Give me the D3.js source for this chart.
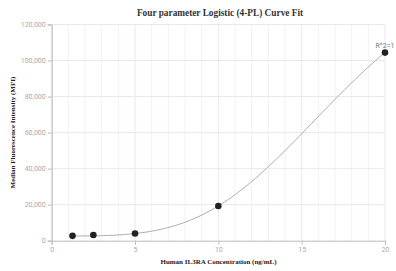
<!DOCTYPE html>
<html>
<head>
<meta charset="utf-8">
<script src="https://cdn.jsdelivr.net/npm/d3@7/dist/d3.min.js"></script>
<style>
  html, body { margin: 0; padding: 0; background: #fff; }
  svg { display: block; }
</style>
</head>
<body>
<svg id="chart" width="396" height="271"></svg>
<script>
// Data
const concentrations = [1.25, 2.5, 5, 10, 20];
const mfiValues = [2700, 3200, 4000, 19300, 104400];
const xTicks = [0, 5, 10, 15, 20];
const yTicks = [0, 20000, 40000, 60000, 80000, 100000, 120000];
// 4PL fit parameters (y = d + (a - d) / (1 + (x/c)^b))
const fitA = 2600, fitB = 3.75, fitC = 18.14, fitD = 175200;
const fitLabel = "R^2=1";

const svg = d3.select("#chart");
const margin = { left: 51.7, right: 11, top: 24.5, bottom: 30.3 };
const W = 396, H = 271;

const x = d3.scaleLinear().domain([0, 20]).range([margin.left, W - margin.right]);
const y = d3.scaleLinear().domain([0, 120000]).range([H - margin.bottom, margin.top]);

// Vertical gridlines
const minor = d3.range(0, 21, 1);
svg.append("g").selectAll("line").data(minor).join("line")
  .attr("x1", d => x(d)).attr("x2", d => x(d))
  .attr("y1", y(120000)).attr("y2", y(0))
  .attr("stroke", d => d % 5 === 0 ? "#e6e9f4" : "#f1f2f8")
  .attr("stroke-width", 1);

// Horizontal gridlines
svg.append("g").selectAll("line").data(yTicks.slice(1)).join("line")
  .attr("x1", x(0)).attr("x2", x(20))
  .attr("y1", d => y(d)).attr("y2", d => y(d))
  .attr("stroke", "#e6e9f4").attr("stroke-width", 1);

// Axes
const xAxis = d3.axisBottom(x).tickValues(xTicks).tickSize(4).tickPadding(2);
const gx = svg.append("g").attr("transform", `translate(0,${y(0)})`).call(xAxis);
gx.selectAll("text").attr("fill", "#aaa").style("font-family", "Roboto, sans-serif").style("font-size", "7px");
gx.selectAll("line").attr("stroke", "#bbb");
gx.select(".domain").attr("stroke", "#bbb");

const yAxis = d3.axisLeft(y).tickValues(yTicks).tickSize(4).tickPadding(2).tickFormat(d3.format(","));
const gy = svg.append("g").attr("transform", `translate(${x(0)},0)`).call(yAxis);
gy.selectAll("text").attr("fill", "#aaa").style("font-family", "Roboto, sans-serif").style("font-size", "7px");
gy.selectAll("line").attr("stroke", "#bbb");
gy.select(".domain").attr("stroke", "#bbb");

// Fit curve
const fit = xv => fitD + (fitA - fitD) / (1 + Math.pow(xv / fitC, fitB));
const xmin = d3.min(concentrations), xmax = d3.max(concentrations);
const curvePts = d3.range(0, 201).map(i => {
  const xv = xmin + (xmax - xmin) * i / 200;
  return [xv, fit(xv)];
});
svg.append("path")
  .datum(curvePts)
  .attr("d", d3.line().x(d => x(d[0])).y(d => y(d[1])))
  .attr("fill", "none").attr("stroke", "#aaa").attr("stroke-width", 1);

// Points
svg.append("g").selectAll("circle").data(concentrations).join("circle")
  .attr("cx", d => x(d)).attr("cy", (d, i) => y(mfiValues[i]))
  .attr("r", 3.3).attr("fill", "#222");

// R^2 label
svg.append("text")
  .attr("x", x(xmax)).attr("y", y(mfiValues[mfiValues.length - 1]) - 5)
  .attr("text-anchor", "middle")
  .attr("fill", "#777").style("font-family", "Roboto, sans-serif").style("font-size", "7px")
  .text(fitLabel);

// Title
svg.append("text")
  .attr("x", 220).attr("y", 15.5)
  .attr("text-anchor", "middle")
  .style("font-family", "'Liberation Serif', 'Times New Roman', serif")
  .style("font-weight", "bold").style("font-size", "9.3px").attr("fill", "#333")
  .text("Four parameter Logistic (4-PL) Curve Fit");

// X label
svg.append("text")
  .attr("x", 218.5).attr("y", 264)
  .attr("text-anchor", "middle")
  .style("font-family", "'Liberation Serif', 'Times New Roman', serif")
  .style("font-weight", "bold").style("font-size", "7px").attr("fill", "#222")
  .text("Human IL3RA Concentration (ng/mL)");

// Y label
svg.append("text")
  .attr("transform", `translate(15,${(y(0) + y(120000)) / 2}) rotate(-90)`)
  .attr("text-anchor", "middle")
  .style("font-family", "'Liberation Serif', 'Times New Roman', serif")
  .style("font-weight", "bold").style("font-size", "7px").attr("fill", "#222")
  .text("Median Fluorescence Intensity (MFI)");
</script>
</body>
</html>
